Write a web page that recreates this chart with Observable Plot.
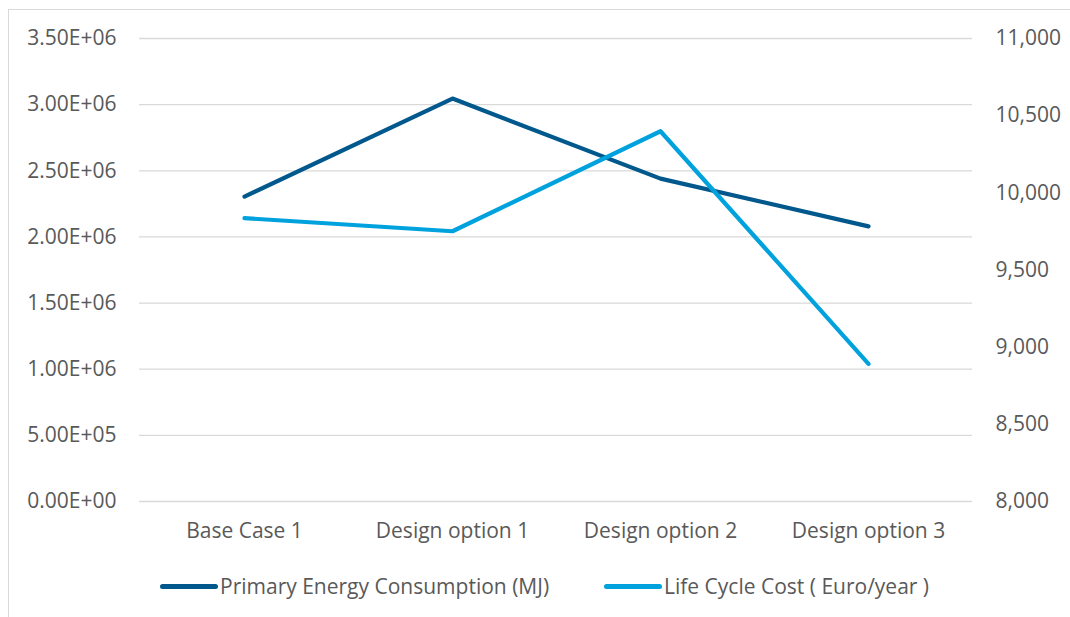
<!DOCTYPE html>
<html>
<head>
<meta charset="utf-8">
<script src="https://cdn.jsdelivr.net/npm/d3@7"></script>
<script src="https://cdn.jsdelivr.net/npm/@observablehq/plot@0.6"></script>
<style>
  html, body { margin: 0; padding: 0; background: #fff; overflow: hidden; }
  #wrap { position: relative; width: 1070px; height: 617px; font-family: "Open Sans", sans-serif; }
  #border { position: absolute; left: 8px; top: 9px; width: 1100px; height: 700px; border: 1px solid #d9d9d9; box-sizing: border-box; }
  #chart { position: absolute; left: 0; top: 0; }
  #legend { position: absolute; top: 571px; left: 0; width: 1070px; height: 30px; font-size: 21px; color: #595959; }
  .item { position: absolute; top: 0; display: flex; align-items: center; height: 30px; }
  .sw { width: 58px; height: 5px; border-radius: 3px; margin-right: 2px; }
</style>
</head>
<body>
<div id="wrap">
  <div id="border"></div>
  <div id="chart"></div>
  <div id="legend"></div>
</div>
<script>
const categories = ["Base Case 1", "Design option 1", "Design option 2", "Design option 3"];
const energy = [2.305e6, 3.046e6, 2.441e6, 2.080e6];
const cost = [9836, 9751, 10399, 8892];
const leftTicks = [0, 5e5, 1e6, 1.5e6, 2e6, 2.5e6, 3e6, 3.5e6];
const rightTicks = [8000, 8500, 9000, 9500, 10000, 10500, 11000];
const seriesNames = ["Primary Energy Consumption (MJ)", "Life Cycle Cost ( Euro/year )"];
const colors = ["#00588C", "#00A2DE"];

const leftMax = 3.5e6, rMin = 8000, rMax = 11000;
const toLeft = v => (v - rMin) / (rMax - rMin) * leftMax;
const fromLeft = v => rMin + v / leftMax * (rMax - rMin);

function sci(v) {
  if (v === 0) return "0.00E+00";
  const e = Math.floor(Math.log10(v));
  const m = v / Math.pow(10, e);
  return m.toFixed(2) + "E+" + String(e).padStart(2, "0");
}

const data = [];
categories.forEach((c, i) => {
  data.push({cat: c, series: seriesNames[0], y: energy[i]});
});
categories.forEach((c, i) => {
  data.push({cat: c, series: seriesNames[1], y: toLeft(cost[i])});
});

const fs = 21;
const plot = Plot.plot({
  width: 1070,
  height: 560,
  marginLeft: 139,
  marginRight: 98,
  marginTop: 38,
  marginBottom: 59,
  style: {fontFamily: "Open Sans, sans-serif", fontSize: fs + "px", color: "#595959", background: "transparent"},
  x: {type: "point", domain: categories, padding: 0.5},
  y: {domain: [0, leftMax]},
  color: {domain: seriesNames, range: colors},
  marks: [
    Plot.gridY(leftTicks, {stroke: "#d9d9d9", strokeOpacity: 1, strokeWidth: 1.3}),
    Plot.axisY(leftTicks, {anchor: "left", tickSize: 0, tickPadding: 23, fontSize: fs, tickFormat: sci, label: null, fill: "#595959"}),
    Plot.axisY(rightTicks.map(toLeft), {anchor: "right", tickSize: 0, tickPadding: 23, fontSize: fs, tickFormat: v => d3.format(",")(Math.round(fromLeft(v))), label: null, fill: "#595959"}),
    Plot.axisX({tickSize: 0, tickPadding: 22, fontSize: fs, label: null, fill: "#595959"}),
    Plot.line(data, {x: "cat", y: "y", z: "series", stroke: "series", strokeWidth: 4.2, strokeLinecap: "round", strokeLinejoin: "round"})
  ]
});
document.getElementById("chart").appendChild(plot);

const legend = document.getElementById("legend");
const lefts = [160, 604];
seriesNames.forEach((n, i) => {
  const it = document.createElement("div");
  it.className = "item";
  it.style.left = lefts[i] + "px";
  const sw = document.createElement("div");
  sw.className = "sw";
  sw.style.background = colors[i];
  const t = document.createElement("span");
  t.textContent = n;
  it.appendChild(sw);
  it.appendChild(t);
  legend.appendChild(it);
});
</script>
</body>
</html>
